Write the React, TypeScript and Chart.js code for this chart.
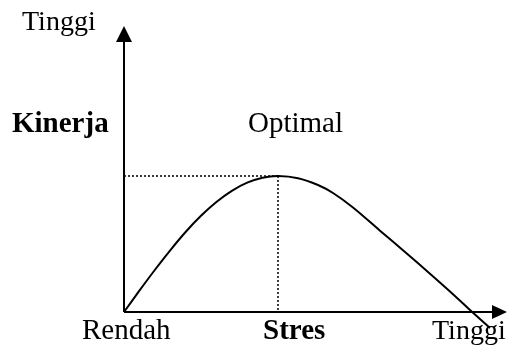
import React, { useEffect, useRef } from "react";
import { Chart, registerables } from "chart.js";

Chart.register(...registerables);

// Stress level (x) and performance (y), arbitrary units
const stressLevels = [
  0, 4.16, 8.32, 12.49, 16.65, 20.81, 24.97, 29.14, 33.3, 37.46, 41.62,
  47.03, 52.43, 56.49, 61.89, 69.19, 75.95, 82.7, 88.11, 93.51, 98.92,
];
const performance = [
  0, 7.83, 15.44, 22.68, 29.41, 35.37, 40.44, 44.56, 47.54, 49.37, 50.0,
  49.19, 46.69, 43.75, 38.42, 29.89, 22.06, 14.08, 7.54, 0.74, -5.88,
];
const peakStress = 41.62;
const peakPerformance = 50.0;

const yAxisTop = "Tinggi";
const yAxisTitle = "Kinerja";
const peakLabel = "Optimal";
const xAxisLow = "Rendah";
const xAxisTitle = "Stres";
const xAxisHigh = "Tinggi";

const SERIF = '"Liberation Serif", "Times New Roman", serif';

const diagramPlugin = {
  id: "diagram",
  beforeDatasetsDraw(chart: any) {
    const ctx = chart.ctx as CanvasRenderingContext2D;
    const xs = chart.scales.x;
    const ys = chart.scales.y;
    const x0 = xs.getPixelForValue(0);
    const y0 = ys.getPixelForValue(0);
    const px = xs.getPixelForValue(peakStress);
    const py = ys.getPixelForValue(peakPerformance);
    ctx.save();
    ctx.strokeStyle = "#000";
    ctx.fillStyle = "#000";
    ctx.lineWidth = 2;
    ctx.beginPath();
    ctx.moveTo(x0, y0);
    ctx.lineTo(x0, 41);
    ctx.moveTo(x0, y0);
    ctx.lineTo(493, y0);
    ctx.stroke();
    ctx.beginPath();
    ctx.moveTo(x0, 26);
    ctx.lineTo(x0 - 8, 42);
    ctx.lineTo(x0 + 8, 42);
    ctx.closePath();
    ctx.fill();
    ctx.beginPath();
    ctx.moveTo(507, y0);
    ctx.lineTo(492, y0 - 7);
    ctx.lineTo(492, y0 + 7);
    ctx.closePath();
    ctx.fill();
    ctx.lineWidth = 1.5;
    ctx.setLineDash([2, 2]);
    ctx.beginPath();
    ctx.moveTo(x0, py);
    ctx.lineTo(px, py);
    ctx.moveTo(px, py);
    ctx.lineTo(px, y0);
    ctx.stroke();
    ctx.restore();
  },
  afterDraw(chart: any) {
    const ctx = chart.ctx as CanvasRenderingContext2D;
    ctx.save();
    ctx.fillStyle = "#000";
    ctx.textBaseline = "alphabetic";
    ctx.textAlign = "left";
    ctx.font = `29px ${SERIF}`;
    ctx.fillText(peakLabel, 248, 132);
    ctx.fillText(xAxisLow, 82, 339);
    ctx.font = `28px ${SERIF}`;
    ctx.fillText(yAxisTop, 22, 30);
    ctx.fillText(xAxisHigh, 432, 339);
    ctx.font = `bold 29px ${SERIF}`;
    ctx.fillText(yAxisTitle, 12, 132);
    ctx.fillText(xAxisTitle, 263, 339);
    ctx.restore();
  },
};

export default function App() {
  const ref = useRef<HTMLCanvasElement | null>(null);
  useEffect(() => {
    if (!ref.current) return;
    const chart = new Chart(ref.current, {
      type: "line",
      data: {
        datasets: [
          {
            data: stressLevels.map((s, i) => ({ x: s, y: performance[i] })),
            borderColor: "#000",
            borderWidth: 2,
            pointRadius: 0,
            tension: 0.3,
            fill: false,
            clip: false as any,
          },
        ],
      },
      options: {
        responsive: false,
        animation: false,
        devicePixelRatio: 1,
        layout: { padding: { left: 124, right: 13, top: 40, bottom: 33 } },
        plugins: { legend: { display: false }, tooltip: { enabled: false } },
        scales: {
          x: { type: "linear", min: 0, max: 100, display: false },
          y: { type: "linear", min: 0, max: 100, display: false },
        },
      },
      plugins: [diagramPlugin],
    });
    return () => chart.destroy();
  }, []);
  return (
    <div style={{ position: "fixed", left: 0, top: 0, width: 507, height: 345, background: "#fff" }}>
      <canvas ref={ref} width={507} height={345} style={{ display: "block" }} />
    </div>
  );
}
